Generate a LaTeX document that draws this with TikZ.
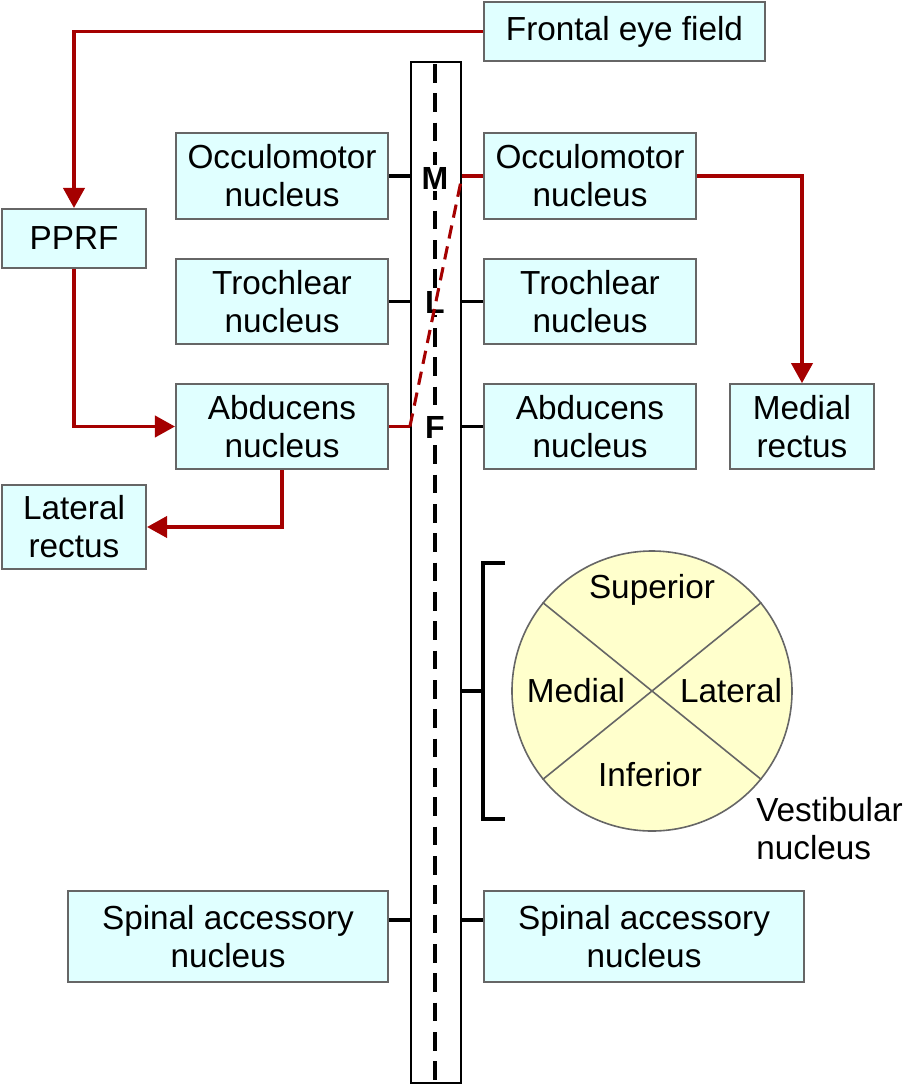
\documentclass[tikz,border=0pt]{standalone}
\usepackage{fontspec}
\setmainfont{Liberation Sans}
\usetikzlibrary{arrows.meta,shapes.geometric}
\definecolor{boxfill}{HTML}{E0FFFF}
\definecolor{boxline}{HTML}{666666}
\definecolor{redline}{HTML}{A50000}
\definecolor{vestfill}{HTML}{FFFFCC}
\tikzset{
  nbox/.style={draw=boxline, line width=1.6pt, fill=boxfill, align=center, inner sep=0pt,
    font=\fontsize{25}{28.5}\selectfont},
  wide/.style={nbox, minimum width=159pt, minimum height=64pt},
  small/.style={nbox, minimum width=108pt, minimum height=63.5pt},
  redarrow/.style={draw=redline, line width=2.3pt, -{Triangle[length=15pt,width=16pt]}},
  redpath/.style={draw=redline, line width=2.3pt},
  blk/.style={draw=black, line width=2.3pt},
  mlf/.style={font=\fontsize{24}{24}\selectfont\bfseries, inner sep=1.5pt, fill=white},
  lbl/.style={font=\fontsize{25}{28.5}\selectfont, inner sep=0pt, align=center}
}
\begin{document}
\begin{tikzpicture}[x=0.75pt,y=-0.75pt]
\useasboundingbox (0,0) rectangle (905,1086);
% column
\node[draw=black, line width=1.6pt, fill=white, minimum width=37.5pt, minimum height=765.75pt, inner sep=0pt] (col) at (436,572.5) {};
\coordinate (ctop) at (435,64);
\coordinate (cbot) at (435,1080);
\draw[black, line width=2.3pt, dash pattern=on 14pt off 8pt] (ctop) -- (cbot);
% boxes
\node[nbox, minimum width=210.75pt, minimum height=44.25pt] (fef) at (624.5,31.5) {Frontal eye field};
\node[small, minimum height=44.25pt] (pprf) at (74,238.5) {PPRF};
\node[wide] (occL) at (282,176) {Occulomotor\\nucleus};
\node[wide] (occR) at (590,176) {Occulomotor\\nucleus};
\node[wide] (trocL) at (282,301.5) {Trochlear\\nucleus};
\node[wide] (trocR) at (590,301.5) {Trochlear\\nucleus};
\node[wide] (abdL) at (282,426.5) {Abducens\\nucleus};
\node[wide] (abdR) at (590,426.5) {Abducens\\nucleus};
\node[small] (latR) at (74,527) {Lateral\\rectus};
\node[small] (medR) at (802,426.5) {Medial\\rectus};
\node[nbox, minimum width=240pt, minimum height=68.25pt] (spL) at (228,936.5) {Spinal accessory\\nucleus};
\node[nbox, minimum width=240pt, minimum height=68.25pt] (spR) at (644,936.5) {Spinal accessory\\nucleus};
% MLF letters
\node[mlf] (M) at (435,178) {M};
\node[mlf] (L) at (435,302) {L};
\node[mlf] (F) at (435,427) {F};
% black connectors
\draw[blk] (occL.east) -- (col.west |- occL.east);
\draw[blk] (trocL.east) -- (col.west |- trocL.east);
\draw[blk] (col.east |- trocR.west) -- (trocR.west);
\draw[blk] (col.east |- abdR.west) -- (abdR.west);
\draw[blk] (spL.east |- 0,920) -- (col.west |- 0,920);
\draw[blk] (col.east |- 0,920) -- (spR.west |- 0,920);
% red paths
\draw[redarrow] (fef.west) -- (pprf.north |- fef.west) -- (pprf.north);
\draw[redarrow] (pprf.south) -- (pprf.south |- abdL.west) -- (abdL.west);
\draw[redarrow] (abdL.south) -- (abdL.south |- latR.east) -- (latR.east);
\draw[redarrow] (occR.east) -- (medR.north |- occR.east) -- (medR.north);
\coordinate (r1) at (col.west |- abdL.east);
\coordinate (r2) at (col.east |- occR.west);
\draw[redpath] (abdL.east) -- (r1);
\draw[redpath, dash pattern=on 10pt off 6pt] (r1) -- (r2);
\draw[redpath] (r2) -- (occR.west);
% vestibular nucleus
\node[circle, draw=boxline, line width=1.2pt, fill=vestfill, minimum size=210pt, inner sep=0pt] (vest) at (652,691) {};
\draw[boxline, line width=1.2pt] (vest.141) -- (vest.-39);
\draw[boxline, line width=1.2pt] (vest.39) -- (vest.-141);
\node[lbl] (sup) at (652,590) {Superior};
\node[lbl] (med) at (576,691) {Medial};
\node[lbl] (lat) at (731,691) {Lateral};
\node[lbl] (inf) at (650,775) {Inferior};
\node[lbl, anchor=west, align=left] (vlab) at (756,829) {Vestibular\\nucleus};
% bracket
\coordinate (b1) at (505,563);
\coordinate (b2) at (483,563);
\coordinate (b3) at (483,819);
\coordinate (b4) at (505,819);
\coordinate (bm) at (483,691);
\draw[blk] (b1) -- (b2) -- (b3) -- (b4);
\draw[blk] (col.east |- bm) -- (bm);
\end{tikzpicture}
\end{document}
